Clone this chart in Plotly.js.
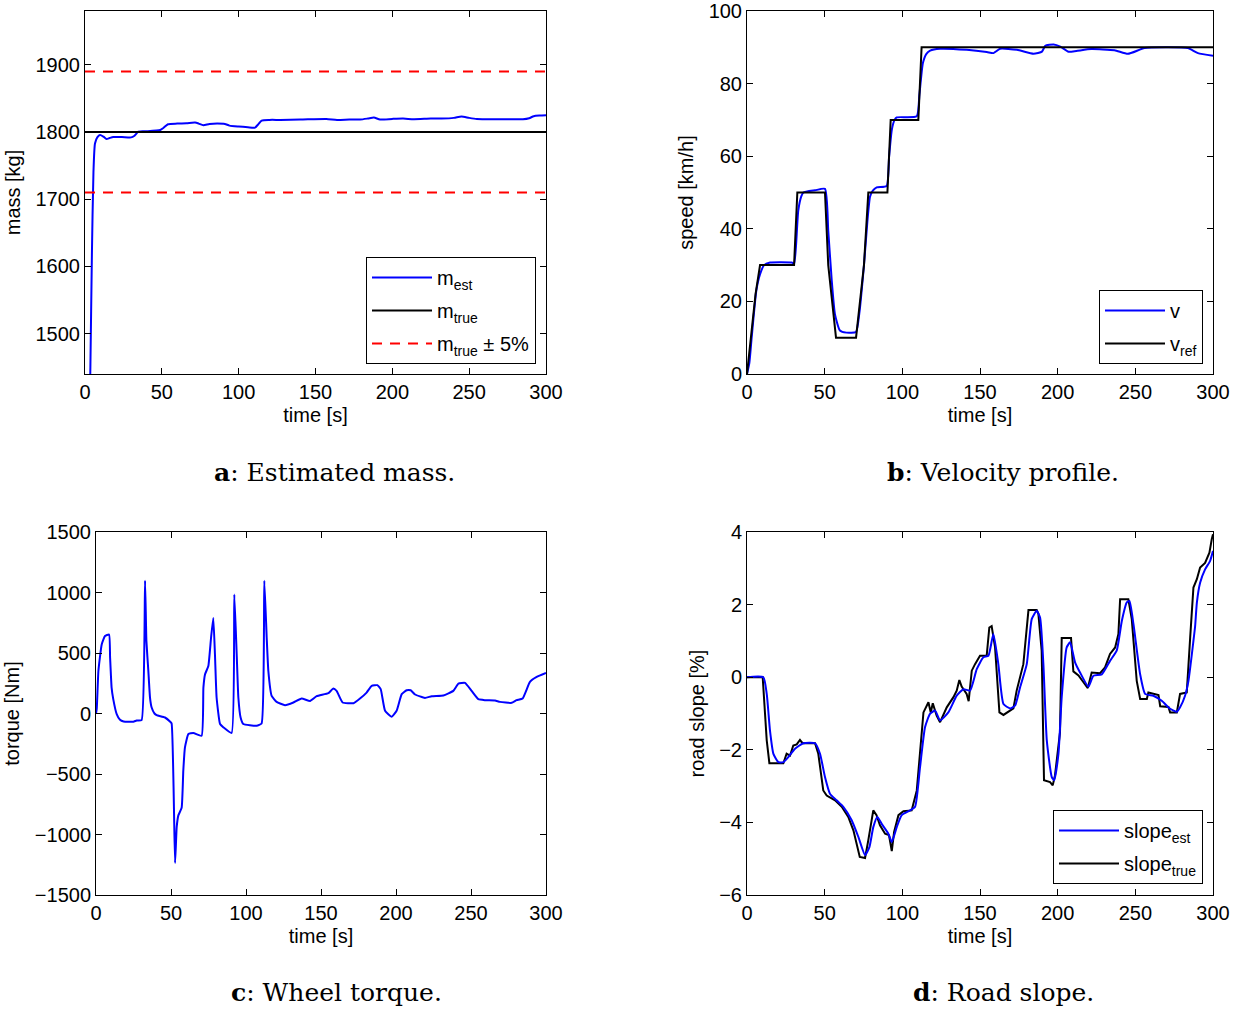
<!DOCTYPE html>
<html>
<head>
<meta charset="utf-8">
<script src="https://cdn.plot.ly/plotly-3.0.1.min.js"></script>
<style>html,body{margin:0;padding:0;background:#fff;}#chart{width:1242px;height:1012px;}</style>
</head>
<body>
<div id="chart"></div>
<script>
// ---------- Panel a: estimated mass ----------
const massT   = [0, 2, 3.5, 4.5, 5.5, 6.5, 8, 9.8, 12, 14, 16, 18.4, 24, 30, 32, 34.7, 40, 49, 51, 54, 60, 66, 71.6, 74, 77, 81, 86, 91, 94, 100, 106, 110.6, 113, 115, 120, 127, 140, 157, 164, 172, 179, 184, 188, 192, 200, 207, 214, 225, 232, 240, 245, 250, 255, 265, 275, 285, 289, 292, 296, 300];
const massEst = [1000, 1250, 1450, 1620, 1740, 1783, 1792, 1795.5, 1793, 1789.5, 1791, 1792.5, 1792.5, 1792, 1794, 1800.5, 1801, 1803, 1806, 1811.5, 1812.5, 1813, 1814, 1812.5, 1810, 1812, 1812.5, 1812, 1809.5, 1808, 1807, 1806.5, 1812, 1817, 1818, 1818, 1818.5, 1819.5, 1818, 1818.5, 1818.5, 1820, 1821.5, 1818.5, 1819.5, 1820, 1819, 1820, 1820, 1821, 1823, 1821, 1819.5, 1819, 1819, 1819, 1820.5, 1823.5, 1824.5, 1825];
const massSpanT = [0, 300];
const massTrue  = 1800;
const massUpper = 1890;
const massLower = 1710;

// ---------- Panel b: velocity profile ----------
const vRefT = [0, 5.5, 8.4, 30.3, 32.4, 50.2, 52.3, 57.3, 70.2, 75.3, 78.1, 90.4, 92.5, 110.3, 112.4, 300];
const vRef  = [0, 22, 30, 30, 50, 50, 30, 10, 10, 30, 50, 50, 70, 70, 90, 90];
const vT = [0, 1.5, 3, 6, 8.4, 11, 14.8, 28.8, 30.3, 31.5, 33, 35, 36.3, 43.8, 50.2, 52.3, 54.5, 56.6, 59.8, 64, 70.2, 72.3, 75.3, 77.5, 79.2, 81, 83.5, 89.9, 91.5, 93.2, 95, 96.4, 109.3, 111, 113.2, 115.5, 117.9, 124.3, 141.5, 154.4, 158.7, 163, 173.8, 184.5, 189.9, 192, 197.4, 201.7, 207, 212, 221.6, 236.6, 245.2, 255.9, 270.9, 283.8, 290.3, 300];
const v  = [0, 3, 10, 23, 27.5, 30, 30.7, 30.7, 30.4, 35, 45, 49, 50, 50.6, 51, 39.5, 26, 16.5, 12, 11.4, 11.6, 16.7, 30, 42, 48.8, 50.5, 51.4, 51.8, 60, 67.2, 70, 70.7, 71, 77, 85.6, 88.2, 89.1, 89.6, 89.3, 88.7, 88.4, 89.6, 89.3, 88.2, 88.8, 90.4, 90.8, 90.2, 88.8, 89, 89.5, 89.2, 88.2, 89.8, 90, 89.8, 88.4, 87.7];

// ---------- Panel c: wheel torque ----------
const torqueT = [0, 0.5, 1.6, 3.8, 6, 8.7, 9.4, 10.4, 11.5, 13.8, 16, 18.4, 24.9, 27.1, 30.4, 32.7, 33.6, 34.9, 36, 37.1, 39, 40.4, 46, 49.3, 50.4, 52.7, 53.8, 54.9, 57.1, 58.2, 59.3, 61.6, 64.9, 70.4, 71.6, 72.7, 74.9, 76.7, 78.2, 79.3, 80.4, 82.7, 85, 90.4, 92.2, 93.8, 94.9, 96.4, 98.2, 107.1, 110.4, 112.2, 113.8, 114.9, 117.1, 120.4, 126, 131.6, 137.1, 142.7, 147.1, 154.9, 158.2, 160.4, 164.4, 171.6, 176, 180.4, 183.8, 187.6, 189.8, 192.7, 197.1, 200.4, 203.8, 207.1, 209.8, 212.7, 219.3, 223.8, 231.6, 238.2, 241.6, 246, 250.4, 254.9, 259.3, 266, 269.3, 277.1, 280.4, 284.4, 289.3, 293.8, 300];
const torque  = [0, 40, 351, 571, 640, 653, 461, 214, 119, -5, -52, -66, -68, -58, -55, 1098, 600, 351, 132, 49, 0, -14, -33, -66, -82, -1235, -938, -842, -779, -472, -280, -170, -161, -184, 214, 324, 393, 626, 790, 489, 132, -87, -115, -161, 983, 489, 132, -33, -87, -101, -82, 1098, 626, 351, 146, 96, 69, 91, 124, 104, 143, 168, 206, 187, 91, 85, 124, 173, 228, 234, 201, 22, -27, 22, 160, 192, 192, 157, 129, 143, 149, 187, 247, 253, 187, 118, 110, 107, 96, 88, 110, 124, 261, 302, 335];

// ---------- Panel d: road slope ----------
const slopeTrueT = [0, 10.1, 12.7, 14.4, 23.4, 25.5, 27.7, 29.8, 32.0, 34.1, 35.2, 36.3, 43.8, 45.9, 49.1, 51.3, 56.7, 61.0, 65.2, 68.5, 72.6, 76.0, 78.1, 81.3, 83.4, 85.6, 88.9, 91.4, 93.2, 94.7, 97.5, 100.7, 106.0, 109.3, 113.6, 116.8, 118.3, 119.6, 122.1, 124.3, 128.6, 132.9, 135.0, 136.7, 138.2, 141.4, 142.7, 144.7, 146.8, 150.0, 154.3, 156.0, 157.5, 159.7, 162.5, 165.1, 171.5, 173.6, 177.9, 181.2, 186.5, 187.6, 189.7, 191.2, 195.1, 196.8, 198.3, 201.5, 202.6, 208.6, 210.1, 213.4, 216.6, 219.4, 221.9, 227.3, 230.5, 233.7, 237.0, 239.1, 240.2, 245.5, 247.7, 250.9, 253.1, 257.4, 258.4, 264.9, 266.0, 271.3, 272.4, 276.7, 278.8, 283.1, 285.3, 287.4, 289.6, 291.7, 294.9, 297.7, 299.2, 300];
const slopeTrue  = [0, 0, -1.74, -2.37, -2.37, -2.11, -2.16, -1.88, -1.85, -1.73, -1.79, -1.82, -1.82, -2.11, -3.12, -3.26, -3.39, -3.57, -3.85, -4.22, -4.95, -4.98, -4.49, -3.67, -3.80, -4.08, -4.31, -4.35, -4.79, -4.26, -3.80, -3.69, -3.67, -3.12, -0.97, -0.69, -0.97, -0.72, -1.06, -1.24, -0.83, -0.55, -0.37, -0.08, -0.26, -0.46, -0.66, 0.18, 0.36, 0.59, 0.59, 1.37, 1.41, 0.82, -0.97, -1.04, -0.86, -0.37, 0.36, 1.85, 1.85, 1.74, 0.73, -2.84, -2.89, -2.98, -2.70, -1.52, 1.08, 1.08, 0.16, 0.05, -0.14, -0.30, 0.13, 0.11, 0.27, 0.64, 0.82, 1.19, 2.15, 2.15, 1.60, -0.10, -0.60, -0.60, -0.42, -0.49, -0.80, -0.82, -0.97, -0.97, -0.46, -0.42, 1.09, 2.47, 2.70, 3.02, 3.15, 3.43, 3.80, 3.94];
const slopeEstT = [0, 10.5, 12.7, 14.8, 17.0, 20.2, 23.4, 26.6, 30.9, 36.3, 43.8, 47.0, 50.2, 53.4, 57.7, 62.0, 67.4, 71.7, 76.0, 78.8, 81.3, 83.9, 86.7, 91.0, 93.2, 96.4, 99.6, 105.0, 108.2, 111.4, 114.6, 117.8, 121.1, 124.3, 129.6, 135.0, 139.3, 143.6, 147.9, 152.2, 155.4, 158.6, 161.8, 165.1, 169.4, 172.6, 175.8, 180.1, 183.3, 186.5, 188.7, 190.8, 193.0, 196.2, 197.7, 200.5, 202.6, 205.8, 208.0, 211.2, 214.4, 219.8, 223.0, 228.4, 233.7, 238.0, 241.3, 244.5, 246.2, 248.8, 253.1, 256.3, 261.6, 267.0, 272.4, 276.7, 278.8, 282.0, 284.2, 287.4, 288.5, 289.6, 291.7, 294.9, 298.1, 300];
const slopeEst  = [0, 0, -0.46, -1.47, -2.11, -2.34, -2.34, -2.20, -1.97, -1.82, -1.82, -2.11, -2.75, -3.21, -3.39, -3.57, -3.94, -4.40, -4.90, -4.68, -4.13, -3.85, -4.04, -4.31, -4.54, -4.13, -3.80, -3.67, -3.57, -2.48, -1.38, -1.01, -0.92, -1.19, -0.97, -0.51, -0.33, -0.37, 0.22, 0.55, 0.59, 1.19, 0.36, -0.74, -0.86, -0.78, -0.28, 0.36, 1.60, 1.83, 1.64, 0.36, -1.74, -2.75, -2.84, -2.11, -0.55, 0.82, 0.96, 0.41, 0.13, -0.26, 0.04, 0.08, 0.45, 0.73, 1.55, 2.06, 2.10, 1.46, 0.08, -0.46, -0.51, -0.65, -0.87, -0.95, -0.83, -0.51, -0.10, 1.00, 1.41, 2.05, 2.60, 2.97, 3.20, 3.48];

// ---------- Text ----------
const captions = ['<b>a</b>: Estimated mass.', '<b>b</b>: Velocity profile.', '<b>c</b>: Wheel torque.', '<b>d</b>: Road slope.'];

const BLUE = '#0000ff', BLACK = '#000000', RED = '#ff0000';
const W = 1242, H = 1012;
const fx = p => p / W;
const fy = p => 1 - p / H;
const FS = 20;
const SANS = 'Liberation Sans, Arial, sans-serif';

const traces = [
  {x: massT, y: massEst, xaxis: 'x', yaxis: 'y', mode: 'lines', name: 'm<sub>est</sub>', line: {color: BLUE, width: 2, shape: 'spline', smoothing: 0.6}, legend: 'legend', legendgroup: 'a1'},
  {x: massSpanT, y: massSpanT.map(() => massTrue), xaxis: 'x', yaxis: 'y', mode: 'lines', name: 'm<sub>true</sub>', line: {color: BLACK, width: 2}, legend: 'legend', legendgroup: 'a2'},
  {x: massSpanT.concat([null], massSpanT), y: massSpanT.map(() => massUpper).concat([null], massSpanT.map(() => massLower)), xaxis: 'x', yaxis: 'y', mode: 'lines', connectgaps: false, name: 'm<sub>true</sub> ± 5%', line: {color: RED, width: 2, dash: '10px,8px'}, legend: 'legend', legendgroup: 'a3'},

  {x: vT, y: v, xaxis: 'x2', yaxis: 'y2', mode: 'lines', name: 'v', line: {color: BLUE, width: 2, shape: 'spline', smoothing: 0.5}, legend: 'legend2', legendgroup: 'b1'},
  {x: vRefT, y: vRef, xaxis: 'x2', yaxis: 'y2', mode: 'lines', name: 'v<sub>ref</sub>', line: {color: BLACK, width: 2}, legend: 'legend2', legendgroup: 'b2'},

  {x: torqueT, y: torque, xaxis: 'x3', yaxis: 'y3', mode: 'lines', name: 'torque', showlegend: false, line: {color: BLUE, width: 2, shape: 'spline', smoothing: 0.4}},

  {x: slopeTrueT, y: slopeTrue, xaxis: 'x4', yaxis: 'y4', mode: 'lines', name: 'slope<sub>true</sub>', line: {color: BLACK, width: 2}, legend: 'legend3', legendgroup: 'd2', legendrank: 2},
  {x: slopeEstT, y: slopeEst, xaxis: 'x4', yaxis: 'y4', mode: 'lines', name: 'slope<sub>est</sub>', line: {color: BLUE, width: 2, shape: 'spline', smoothing: 0.5}, legend: 'legend3', legendgroup: 'd1', legendrank: 1}
];

const axBase = {
  showline: true, linecolor: BLACK, linewidth: 1, mirror: 'allticks',
  ticks: 'inside', ticklen: 6, tickwidth: 1, tickcolor: BLACK,
  showgrid: false, zeroline: false,
  tickfont: {family: SANS, size: FS, color: BLACK}
};
const xTitle = {text: 'time [s]', font: {size: FS, color: BLACK}, standoff: 5};
const yTitle = t => ({text: t, font: {size: FS, color: BLACK}, standoff: 9});

const legBase = {
  bgcolor: '#ffffff', bordercolor: BLACK, borderwidth: 1,
  font: {family: SANS, size: FS, color: BLACK},
  xanchor: 'right', yanchor: 'bottom', itemwidth: 60, traceorder: 'grouped', tracegroupgap: 4
};

const layout = {
  width: W, height: H,
  margin: {l: 0, r: 0, t: 0, b: 0},
  paper_bgcolor: '#ffffff', plot_bgcolor: '#ffffff',
  font: {family: SANS, size: FS, color: BLACK},
  showlegend: true,
  xaxis:  Object.assign({}, axBase, {domain: [fx(85), fx(546)], anchor: 'y', range: [0, 300], dtick: 50, tick0: 0, title: xTitle}),
  yaxis:  Object.assign({}, axBase, {domain: [fy(374), fy(11)], anchor: 'x', range: [1440, 1980], dtick: 100, tick0: 1500, title: yTitle('mass [kg]')}),
  xaxis2: Object.assign({}, axBase, {domain: [fx(747), fx(1213)], anchor: 'y2', range: [0, 300], dtick: 50, tick0: 0, title: xTitle}),
  yaxis2: Object.assign({}, axBase, {domain: [fy(374), fy(11)], anchor: 'x2', range: [0, 100], dtick: 20, tick0: 0, title: yTitle('speed [km/h]')}),
  xaxis3: Object.assign({}, axBase, {domain: [fx(96), fx(546)], anchor: 'y3', range: [0, 300], dtick: 50, tick0: 0, title: xTitle}),
  yaxis3: Object.assign({}, axBase, {domain: [fy(895), fy(532)], anchor: 'x3', range: [-1500, 1500], dtick: 500, tick0: 0, title: yTitle('torque [Nm]')}),
  xaxis4: Object.assign({}, axBase, {domain: [fx(747), fx(1213)], anchor: 'y4', range: [0, 300], dtick: 50, tick0: 0, title: xTitle}),
  yaxis4: Object.assign({}, axBase, {domain: [fy(895), fy(532)], anchor: 'x4', range: [-6, 4], dtick: 2, tick0: 0, title: yTitle('road slope [%]')}),
  legend:  Object.assign({}, legBase, {x: fx(536), y: fy(364)}),
  legend2: Object.assign({}, legBase, {x: fx(1203), y: fy(364)}),
  legend3: Object.assign({}, legBase, {x: fx(1203), y: fy(884)}),
  annotations: [
    {text: captions[0], x: fx(335), y: fy(472)},
    {text: captions[1], x: fx(1003), y: fy(472)},
    {text: captions[2], x: fx(336), y: fy(992)},
    {text: captions[3], x: fx(1003), y: fy(992)}
  ].map(a => Object.assign(a, {xref: 'paper', yref: 'paper', xanchor: 'center', yanchor: 'middle', showarrow: false, font: {family: 'DejaVu Serif, Liberation Serif, serif', size: 25, color: BLACK}}))
};

Plotly.newPlot('chart', traces, layout, {staticPlot: true, displayModeBar: false});
</script>
</body>
</html>
